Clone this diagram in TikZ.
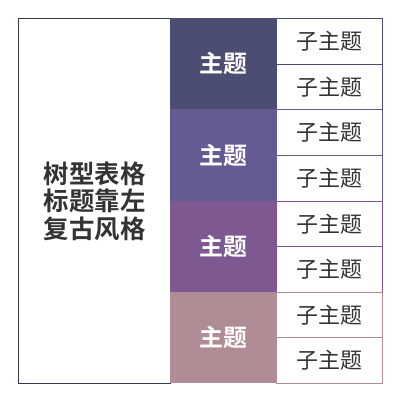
\documentclass[tikz,border=0pt]{standalone}
\usepackage{fontspec}
\newfontfamily\cjk{Noto Sans CJK SC}
\newfontfamily\cjkb{Noto Sans CJK SC Bold}
\definecolor{bandA}{HTML}{4B4E72}
\definecolor{bandB}{HTML}{665A92}
\definecolor{bandC}{HTML}{7E5890}
\definecolor{bandD}{HTML}{B08D95}
\definecolor{frameC}{HTML}{343A4B}
\definecolor{txt}{HTML}{333333}
\tikzset{
  titlebox/.style={draw=frameC, line width=1.2bp, fill=white, anchor=north west, inner sep=0pt,
    minimum width=152bp, minimum height=365bp, text=txt, align=center,
    font=\cjkb\fontsize{25.5}{27.5}\selectfont},
  mainbox/.style={fill=#1, anchor=north west, inner sep=0pt, minimum width=106bp,
    minimum height=91.25bp, text=white, font=\cjkb\fontsize{24}{26}\selectfont},
  subbox/.style={draw=#1, line width=1bp, fill=white, anchor=north west, inner sep=0pt,
    minimum width=106bp, minimum height=45.625bp, text=txt, font=\cjk\fontsize{22}{24}\selectfont},
}
\begin{document}
\begin{tikzpicture}[x=1bp,y=-1bp]
\useasboundingbox (0,0) rectangle (400,402);
\node[titlebox] (t) at (18,18) {树型表格\\标题靠左\\复古风格};
\node[mainbox=bandA] (m1) at (170,18) {主题};
\node[mainbox=bandB] (m2) at (170,109.25) {主题};
\node[mainbox=bandC] (m3) at (170,200.5) {主题};
\node[mainbox=bandD] (m4) at (170,291.75) {主题};
\node[subbox=bandA] (s1) at (276,18) {子主题};
\node[subbox=bandA] (s2) at (276,63.625) {子主题};
\node[subbox=bandB] (s3) at (276,109.25) {子主题};
\node[subbox=bandB] (s4) at (276,154.875) {子主题};
\node[subbox=bandC] (s5) at (276,200.5) {子主题};
\node[subbox=bandC] (s6) at (276,246.125) {子主题};
\node[subbox=bandD] (s7) at (276,291.75) {子主题};
\node[subbox=bandD] (s8) at (276,337.375) {子主题};
\end{tikzpicture}
\end{document}
